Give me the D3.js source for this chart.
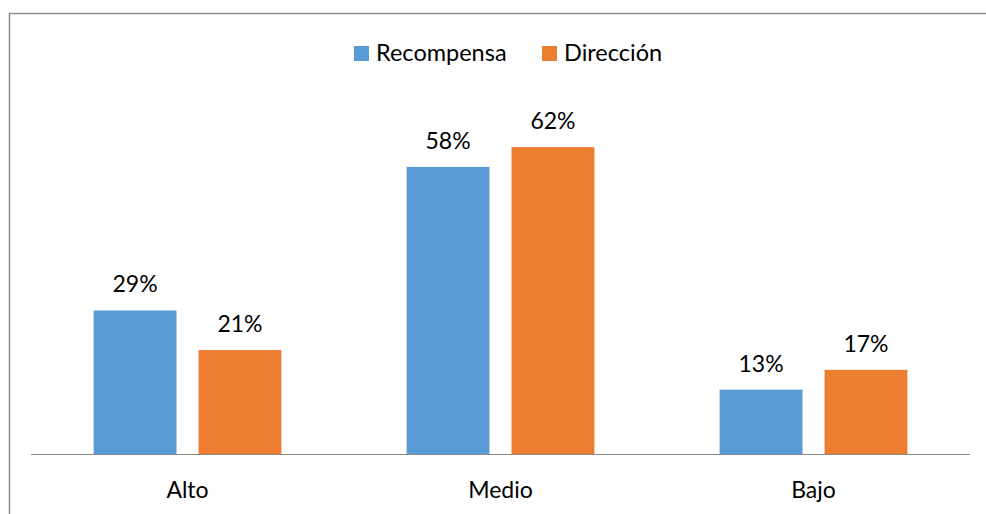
<!DOCTYPE html>
<html>
<head>
<meta charset="utf-8">
<script src="https://cdn.jsdelivr.net/npm/d3@7"></script>
<style>
  body { margin: 0; background: #fff; }
  text { font-family: Lato, "Open Sans", sans-serif; fill: #000; }
</style>
</head>
<body>
<svg id="chart" width="986" height="514"></svg>
<script>
var categories = ["Alto", "Medio", "Bajo"];
var series = ["Recompensa", "Dirección"];
var recompensa = [0.29, 0.58, 0.13];
var direccion = [0.21, 0.62, 0.17];
var colors = ["#5B9BD5", "#ED7D31"];

var svg = d3.select("#chart"),
    width = +svg.attr("width"),
    height = +svg.attr("height");

var values = [recompensa, direccion];

var rows = categories.map(function(c, i) {
    return { cat: c, vals: series.map(function(s, j) { return { key: s, value: values[j][i], color: colors[j] }; }) };
});

// outer frame (right and bottom edges cropped)
svg.append("rect")
    .attr("x", 9.5).attr("y", 13.5)
    .attr("width", 1000).attr("height", 520)
    .attr("fill", "none")
    .attr("stroke", "#8c8c8c")
    .attr("stroke-width", 1.5);

var x0 = d3.scaleBand()
    .domain(categories)
    .range([31, 970])
    .paddingInner(0.4)
    .paddingOuter(0.2);

var x1 = d3.scaleBand()
    .domain(series)
    .range([0, x0.bandwidth()])
    .paddingInner(0.21);

var y = d3.scaleLinear()
    .domain([0, 0.7])
    .range([454, 107.5]);

var groups = svg.append("g")
    .selectAll("g")
    .data(rows)
    .enter().append("g")
    .attr("transform", function(d) { return "translate(" + x0(d.cat) + ",0)"; });

groups.selectAll("rect")
    .data(function(d) { return d.vals; })
    .enter().append("rect")
    .attr("x", function(d) { return x1(d.key); })
    .attr("y", function(d) { return y(d.value); })
    .attr("width", x1.bandwidth())
    .attr("height", function(d) { return y(0) - y(d.value); })
    .attr("fill", function(d) { return d.color; });

groups.selectAll("text.lbl")
    .data(function(d) { return d.vals; })
    .enter().append("text")
    .attr("class", "lbl")
    .attr("x", function(d) { return x1(d.key) + x1.bandwidth() / 2; })
    .attr("y", function(d) { return y(d.value) - 18; })
    .attr("text-anchor", "middle")
    .style("font-size", "23px")
    .text(function(d) { return d3.format(".0%")(d.value); });

// category axis
var xAxis = svg.append("g")
    .attr("transform", "translate(0," + y(0) + ")")
    .call(d3.axisBottom(x0).tickSize(0).tickPadding(28));
xAxis.select(".domain").attr("stroke", "#898989").attr("d", "M31,0.5H970");
xAxis.selectAll("text")
    .style("font-size", "23px")
    .style("font-family", "Lato, 'Open Sans', sans-serif")
    .attr("fill", "#000");

// legend
var legendX = [354, 542];
var legend = svg.append("g")
    .selectAll("g")
    .data(series)
    .enter().append("g")
    .attr("transform", function(d, i) { return "translate(" + legendX[i] + ",46)"; });

legend.append("rect")
    .attr("width", 15).attr("height", 15)
    .attr("fill", function(d, i) { return colors[i]; });

legend.append("text")
    .attr("x", 22).attr("y", 15)
    .style("font-size", "23.5px")
    .text(function(d) { return d; });
</script>
</body>
</html>
